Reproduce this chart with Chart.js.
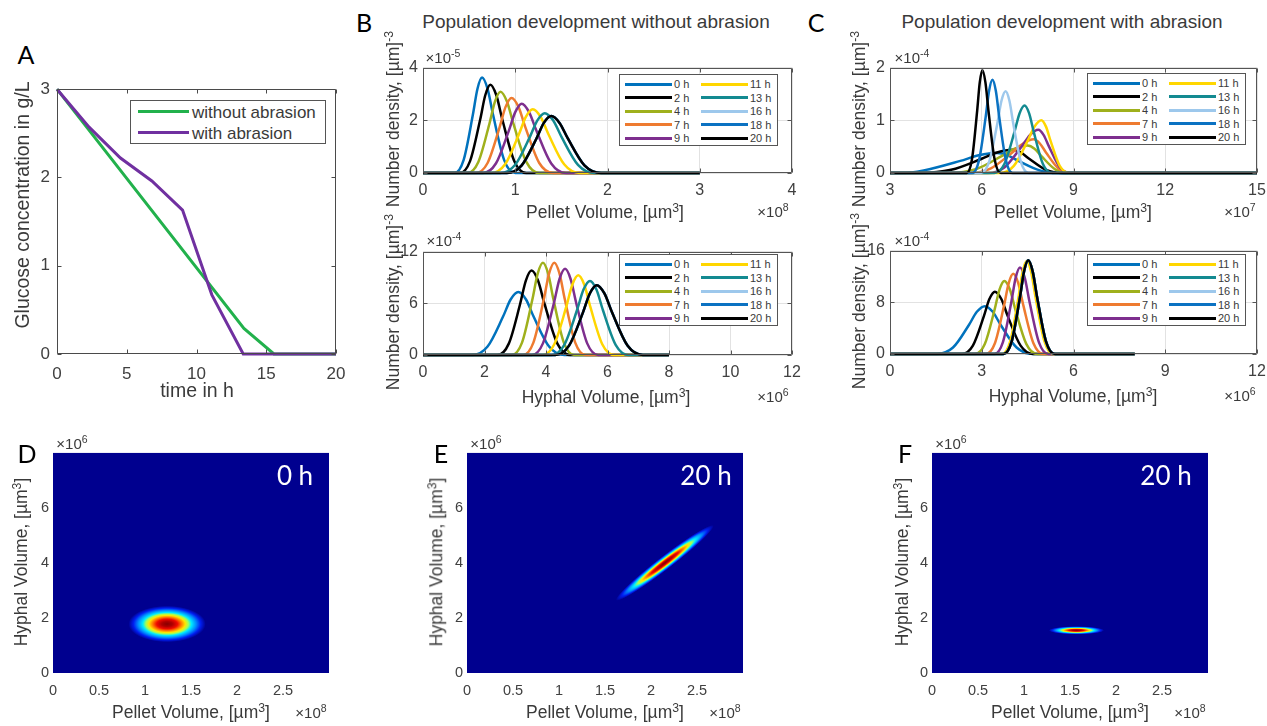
<!DOCTYPE html>
<html>
<head>
<meta charset="utf-8">
<script src="https://cdn.jsdelivr.net/npm/chart.js@4.4.1/dist/chart.umd.min.js"></script>
<style>
  body { margin: 0; background: #fff; }
  #fig { position: relative; width: 1267px; height: 726px; overflow: hidden; font-family: "Liberation Sans", Arial, sans-serif; }
  #fig canvas { position: absolute; }
  .t { position: absolute; white-space: nowrap; line-height: 1; transform: translate(-50%, -50%); color: #3a3a3a; }
  .t.rot { transform: translate(-50%, -50%) rotate(-90deg); }
  .t sup { font-size: 70%; line-height: 0; vertical-align: 0.5em; }
  .letter { font-family: Lato, "Open Sans", sans-serif; color: #000; }
  .lg { position: absolute; background: #fff; border: 1px solid #555; box-sizing: border-box; }
  .lg div { position: absolute; }
  .lg span { position: absolute; white-space: nowrap; line-height: 1; transform: translateY(-50%); color: #3a3a3a; }
</style>
</head>
<body>
<div id="fig"></div>
<script>
// ---- panel A : glucose ----
const timeNoAbr = [0, 13.4, 15.55, 20];
const glucoseNoAbr = [3, 0.29, 0, 0];
const timeAbr = [0, 2.3, 4.55, 6.8, 9.0, 11.1, 13.35, 20];
const glucoseAbr = [3, 2.57, 2.22, 1.96, 1.63, 0.67, 0, 0];
const timeTicks = [0, 5, 10, 15, 20];
const glucoseTicks = [0, 1, 2, 3];

// ---- panels B / C : number density curves ----
const sampleTimes = ['0 h', '2 h', '4 h', '7 h', '9 h', '11 h', '13 h', '16 h', '18 h', '20 h'];
const sampleColors = ['#0072BD', '#000000', '#9FB01C', '#EE7B30', '#7E2F8E', '#FFD600', '#138A91', '#9DC8EC', '#0B72C2', '#000000'];

// pellet volume (x 1e8 um3) / density (x 1e-5), without abrasion
const pelletNoAbr20 = [[0.91,0],[1.07,0.29],[1.23,1.31],[1.31,1.90],[1.39,2.16],[1.48,1.90],[1.57,1.31],[1.75,0.29],[1.93,0]];
const pelletNoAbr = [
  [[0.34,0],[0.44,0.49],[0.54,2.20],[0.59,3.19],[0.64,3.62],[0.70,3.19],[0.76,2.20],[0.88,0.49],[1.00,0]],
  [[0.40,0],[0.51,0.45],[0.62,2.03],[0.675,2.95],[0.73,3.35],[0.795,2.95],[0.86,2.03],[0.99,0.45],[1.12,0]],
  [[0.48,0],[0.60,0.42],[0.72,1.87],[0.78,2.71],[0.84,3.08],[0.91,2.71],[0.98,1.87],[1.12,0.42],[1.26,0]],
  [[0.57,0],[0.70,0.38],[0.83,1.73],[0.895,2.51],[0.96,2.85],[1.035,2.51],[1.11,1.73],[1.26,0.38],[1.41,0]],
  [[0.65,0],[0.79,0.36],[0.93,1.60],[1.00,2.31],[1.07,2.63],[1.15,2.31],[1.23,1.60],[1.39,0.36],[1.55,0]],
  [[0.74,0],[0.89,0.33],[1.04,1.47],[1.115,2.13],[1.19,2.42],[1.275,2.13],[1.36,1.47],[1.53,0.33],[1.70,0]],
  [[0.84,0],[1.00,0.31],[1.16,1.38],[1.24,2.00],[1.32,2.27],[1.41,2.00],[1.50,1.38],[1.68,0.31],[1.86,0]],
  pelletNoAbr20, pelletNoAbr20, pelletNoAbr20
];

// hyphal volume (x 1e6 um3) / density (x 1e-4), without abrasion
const hyphalNoAbr20 = [[4.30,0],[4.75,1.09],[5.20,4.92],[5.425,7.14],[5.65,8.1],[5.90,7.14],[6.15,4.92],[6.65,1.09],[7.15,0]];
const hyphalNoAbr = [
  [[1.6,0],[2.1,0.99],[2.6,4.43],[2.85,6.44],[3.1,7.3],[3.35,6.44],[3.6,4.43],[4.1,0.99],[4.6,0]],
  [[2.42,0],[2.79,1.32],[3.16,5.95],[3.345,8.64],[3.53,9.8],[3.74,8.64],[3.95,5.95],[4.37,1.32],[4.79,0]],
  [[2.88,0],[3.22,1.44],[3.56,6.49],[3.73,9.44],[3.9,10.7],[4.07,9.44],[4.24,6.49],[4.58,1.44],[4.92,0]],
  [[3.25,0],[3.59,1.44],[3.93,6.49],[4.10,9.44],[4.27,10.7],[4.44,9.44],[4.61,6.49],[4.95,1.44],[5.29,0]],
  [[3.54,0],[3.90,1.35],[4.26,6.07],[4.44,8.82],[4.62,10.0],[4.80,8.82],[4.98,6.07],[5.34,1.35],[5.70,0]],
  [[3.88,0],[4.27,1.25],[4.66,5.61],[4.855,8.16],[5.05,9.25],[5.245,8.16],[5.44,5.61],[5.83,1.25],[6.22,0]],
  [[4.17,0],[4.59,1.16],[5.01,5.22],[5.22,7.59],[5.43,8.6],[5.64,7.59],[5.85,5.22],[6.27,1.16],[6.69,0]],
  hyphalNoAbr20, hyphalNoAbr20, hyphalNoAbr20
];

// pellet volume (x 1e7 um3) / density (x 1e-4), with abrasion
const pelletAbr = [
  [[3.4,0],[4.1,0.05],[5.3,0.23],[5.9,0.335],[6.5,0.38],[6.85,0.335],[7.2,0.23],[7.9,0.05],[8.6,0]],
  [[4.0,0],[5.0,0.06],[6.0,0.27],[6.5,0.39],[7.0,0.44],[7.275,0.39],[7.55,0.27],[8.1,0.06],[8.65,0]],
  [[4.95,0],[5.8,0.07],[6.65,0.32],[7.075,0.46],[7.5,0.52],[7.725,0.46],[7.95,0.32],[8.4,0.07],[8.85,0]],
  [[5.6,0],[6.3,0.09],[7.0,0.39],[7.35,0.56],[7.7,0.64],[7.9,0.56],[8.1,0.39],[8.5,0.09],[8.9,0]],
  [[6.2,0],[6.75,0.11],[7.3,0.50],[7.575,0.72],[7.85,0.82],[8.025,0.72],[8.2,0.50],[8.55,0.11],[8.9,0]],
  [[6.6,0],[7.05,0.135],[7.5,0.61],[7.725,0.88],[7.95,1.0],[8.1,0.88],[8.25,0.61],[8.55,0.135],[8.85,0]],
  [[6.41,0],[6.74,0.17],[7.07,0.78],[7.235,1.13],[7.4,1.28],[7.55,1.13],[7.7,0.78],[8.0,0.17],[8.3,0]],
  [[5.97,0],[6.24,0.21],[6.51,0.94],[6.645,1.37],[6.78,1.55],[6.905,1.37],[7.03,0.94],[7.28,0.21],[7.53,0]],
  [[5.69,0],[5.91,0.24],[6.13,1.07],[6.24,1.56],[6.35,1.77],[6.46,1.56],[6.57,1.07],[6.79,0.24],[7.01,0]],
  [[5.51,0],[5.68,0.26],[5.85,1.18],[5.935,1.72],[6.02,1.95],[6.12,1.72],[6.22,1.18],[6.42,0.26],[6.62,0]]
];

// hyphal volume (x 1e6 um3) / density (x 1e-4), with abrasion
const hyphalAbr20 = [[3.71,0],[3.98,1.96],[4.25,8.80],[4.385,12.79],[4.52,14.5],[4.665,12.79],[4.81,8.80],[5.10,1.96],[5.39,0]];
const hyphalAbr = [
  [[1.54,0],[2.06,1.0],[2.58,4.49],[2.84,6.53],[3.1,7.4],[3.36,6.53],[3.62,4.49],[4.14,1.0],[4.66,0]],
  [[2.35,0],[2.71,1.30],[3.07,5.86],[3.25,8.51],[3.43,9.65],[3.64,8.51],[3.85,5.86],[4.27,1.30],[4.69,0]],
  [[2.78,0],[3.10,1.53],[3.42,6.86],[3.58,9.97],[3.74,11.3],[3.92,9.97],[4.10,6.86],[4.46,1.53],[4.82,0]],
  [[3.13,0],[3.43,1.67],[3.73,7.53],[3.88,10.94],[4.03,12.4],[4.195,10.94],[4.36,7.53],[4.69,1.67],[5.02,0]],
  [[3.41,0],[3.69,1.81],[3.97,8.13],[4.11,11.82],[4.25,13.4],[4.405,11.82],[4.56,8.13],[4.87,1.81],[5.18,0]],
  [[3.66,0],[3.93,1.94],[4.20,8.74],[4.335,12.7],[4.47,14.4],[4.615,12.7],[4.76,8.74],[5.05,1.94],[5.34,0]],
  hyphalAbr20, hyphalAbr20, hyphalAbr20, hyphalAbr20
];

// ---- panels D / E / F : joint distributions (x 1e8 pellet, y 1e6 hyphal) ----
const heatCenterD = [1.24, 1.78];
const heatSpreadD = [[0.42, 0], [0, 0.66]];
const heatCenterE = [2.15, 4.0];
const heatSpreadE = [[0.53, 1.36], [0.045, -0.195]];
const heatCenterF = [1.57, 1.55];
const heatSpreadF = [[0.3, 0], [0, 0.15]];
const heatTimes = ['0 h', '20 h', '20 h'];
const pelletTicks = [0, 0.5, 1, 1.5, 2, 2.5];
const hyphalTicks = [0, 2, 4, 6];

const FONT = '"Liberation Sans", Arial, sans-serif';
const jetStops = [[0, 'rgb(135,0,0)'], [0.14, 'rgb(175,0,0)'], [0.27, 'rgb(240,10,0)'], [0.37, 'rgb(255,120,0)'],
  [0.47, 'rgb(255,230,0)'], [0.55, 'rgb(160,255,90)'], [0.63, 'rgb(0,235,255)'], [0.75, 'rgb(0,140,255)'],
  [0.87, 'rgb(0,30,240)'], [1, 'rgb(0,0,143)']];

const fig = document.getElementById('fig');

// box around the axes with inward ticks (matlab look)
const framePlugin = {
  id: 'frame',
  afterDatasetsDraw(chart, args, opts) {
    if (!opts.color) return;
    const { ctx, chartArea: a, scales } = chart;
    const L = Math.round(a.left) + 0.5, R = Math.round(a.right) - 0.5;
    const T = Math.round(a.top) + 0.5, B = Math.round(a.bottom) - 0.5;
    ctx.save();
    ctx.strokeStyle = opts.color;
    ctx.lineWidth = 1;
    ctx.beginPath();
    scales.x.ticks.forEach(t => {
      const p = Math.round(scales.x.getPixelForValue(t.value)) + 0.5;
      ctx.moveTo(p, B); ctx.lineTo(p, B - opts.tick);
      ctx.moveTo(p, T); ctx.lineTo(p, T + opts.tick);
    });
    scales.y.ticks.forEach(t => {
      const p = Math.round(scales.y.getPixelForValue(t.value)) + 0.5;
      ctx.moveTo(L, p); ctx.lineTo(L + opts.tick, p);
      ctx.moveTo(R, p); ctx.lineTo(R - opts.tick, p);
    });
    ctx.rect(L, T, R - L, B - T);
    ctx.stroke();
    ctx.restore();
  }
};

// density map: blob from dataset centre + spread vectors, painted through the scales
const heatPlugin = {
  id: 'heat',
  beforeDatasetsDraw(chart) {
    const ds = chart.data.datasets[0];
    if (!ds || !ds.spread) return;
    const { ctx, chartArea: a, scales: { x, y } } = chart;
    const c = ds.data[0], u = ds.spread[0], v = ds.spread[1];
    ctx.save();
    ctx.beginPath();
    ctx.rect(a.left, a.top, a.width, a.height);
    ctx.clip();
    ctx.fillStyle = jetStops[jetStops.length - 1][1];
    ctx.fillRect(a.left, a.top, a.width, a.height);
    const px = x.getPixelForValue(c.x), py = y.getPixelForValue(c.y);
    ctx.translate(px, py);
    ctx.transform(x.getPixelForValue(c.x + u[0]) - px, y.getPixelForValue(c.y + u[1]) - py,
                  x.getPixelForValue(c.x + v[0]) - px, y.getPixelForValue(c.y + v[1]) - py, 0, 0);
    const g = ctx.createRadialGradient(0, 0, 0, 0, 0, 1);
    jetStops.forEach(s => g.addColorStop(s[0], s[1]));
    ctx.fillStyle = g;
    ctx.beginPath();
    ctx.arc(0, 0, 1, 0, Math.PI * 2);
    ctx.fill();
    ctx.restore();
  }
};
Chart.register(framePlugin, heatPlugin);

function scaleOpts(min, max, tickVals, size, pad, grid) {
  return {
    type: 'linear', min: min, max: max,
    afterBuildTicks: s => { s.ticks = tickVals.map(v => ({ value: v })); },
    ticks: { font: { family: FONT, size: size }, color: '#404040', padding: pad, maxRotation: 0, autoSkip: false, callback: v => String(v) },
    grid: grid ? { color: '#e2e2e2', drawTicks: false } : { display: false, drawTicks: false },
    border: { display: false }
  };
}

// box = plot area [left, top, right, bottom] on the page, m = room for ticks [l, t, r, b]
function makeChart(box, m, config) {
  const cv = document.createElement('canvas');
  const w = box[2] - box[0] + m[0] + m[2], h = box[3] - box[1] + m[1] + m[3];
  cv.width = w; cv.height = h;
  cv.style.left = (box[0] - m[0]) + 'px';
  cv.style.top = (box[1] - m[1]) + 'px';
  cv.style.width = w + 'px';
  cv.style.height = h + 'px';
  fig.appendChild(cv);
  const o = config.options;
  o.responsive = false;
  o.animation = false;
  o.devicePixelRatio = 1;
  o.layout = { padding: { left: 0, top: m[1], right: m[2], bottom: 0 } };
  o.scales.x.afterFit = s => { s.height = m[3]; };
  o.scales.y.afterFit = s => { s.width = m[0]; };
  o.plugins = Object.assign({ legend: { display: false }, tooltip: { enabled: false } }, o.plugins || {});
  return new Chart(cv, config);
}

function toXY(xs, ys) { return xs.map((v, i) => ({ x: v, y: ys[i] })); }

// panel A
makeChart([57, 84, 336, 354], [50, 12, 20, 40], {
  type: 'line',
  data: {
    datasets: [
      { label: 'without abrasion', data: toXY(timeNoAbr, glucoseNoAbr), borderColor: '#22B14C', borderWidth: 3, pointRadius: 0, clip: false, order: 2 },
      { label: 'with abrasion', data: toXY(timeAbr, glucoseAbr), borderColor: '#7030A0', borderWidth: 3, pointRadius: 0, clip: false, order: 1 }
    ]
  },
  options: {
    scales: { x: scaleOpts(0, 20, timeTicks, 17, 10, false), y: scaleOpts(0, 3, glucoseTicks, 17, 7, false) },
    plugins: { frame: { color: '#4a4a4a', tick: 4 } }
  }
});

function curveChart(box, curves, xr, xTicks, yTicks) {
  const datasets = curves.map((pts, i) => ({
    label: sampleTimes[i],
    data: [{ x: xr[0], y: 0 }].concat(pts.map(p => ({ x: p[0], y: p[1] })), [{ x: xr[1], y: 0 }]),
    borderColor: sampleColors[i],
    borderWidth: 2.5,
    pointRadius: 0,
    cubicInterpolationMode: 'monotone',
    clip: false,
    order: curves.length - i
  }));
  makeChart(box, [40, 12, 20, 30], {
    type: 'line',
    data: { datasets: datasets },
    options: {
      scales: { x: scaleOpts(xTicks[0], xTicks[xTicks.length - 1], xTicks, 16, 8, true),
                y: scaleOpts(yTicks[0], yTicks[yTicks.length - 1], yTicks, 16, 5, true) },
      plugins: { frame: { color: '#555', tick: 4 } }
    }
  });
}

curveChart([423, 65, 792, 173], pelletNoAbr, [0, 3], [0, 1, 2, 3, 4], [0, 2, 4]);
curveChart([423, 249, 792, 355], hyphalNoAbr, [0, 8], [0, 2, 4, 6, 8, 10, 12], [0, 6, 12]);
curveChart([890, 65, 1257, 173], pelletAbr, [3, 15], [3, 6, 9, 12, 15], [0, 1, 2]);
curveChart([890, 248, 1257, 354], hyphalAbr, [0, 8], [0, 3, 6, 9, 12], [0, 8, 16]);

function heatChart(box, center, spread) {
  makeChart(box, [40, 12, 20, 40], {
    type: 'scatter',
    data: { datasets: [{ data: [{ x: center[0], y: center[1] }], spread: spread, pointRadius: 0 }] },
    options: {
      scales: { x: scaleOpts(0, 3, pelletTicks, 14.5, 9, false), y: scaleOpts(0, 8, hyphalTicks, 14.5, 4, false) }
    }
  });
}
heatChart([53, 452, 329, 673], heatCenterD, heatSpreadD);
heatChart([467, 452, 743, 673], heatCenterE, heatSpreadE);
heatChart([932, 452, 1208, 673], heatCenterF, heatSpreadF);

// ---- text ----
function txt(html, x, y, size, cls, color) {
  const d = document.createElement('div');
  d.className = 't' + (cls ? ' ' + cls : '');
  d.innerHTML = html;
  d.style.left = x + 'px';
  d.style.top = y + 'px';
  d.style.fontSize = size + 'px';
  if (color) d.style.color = color;
  fig.appendChild(d);
}

function legend(left, top, labels, colors) {
  const box = document.createElement('div');
  box.className = 'lg';
  box.style.left = left + 'px'; box.style.top = top + 'px';
  box.style.width = '159px'; box.style.height = '72px';
  labels.forEach((lab, i) => {
    const col = Math.floor(i / 5), row = i % 5;
    const yc = 9 + row * 13.5;
    const ln = document.createElement('div');
    ln.style.left = (5 + col * 76) + 'px'; ln.style.top = (yc - 1.5) + 'px';
    ln.style.width = '47px'; ln.style.height = '3px'; ln.style.background = colors[i];
    box.appendChild(ln);
    const s = document.createElement('span');
    s.textContent = lab;
    s.style.left = (54 + col * 76) + 'px'; s.style.top = yc + 'px'; s.style.fontSize = '11px';
    box.appendChild(s);
  });
  fig.appendChild(box);
}

// legend A
(function () {
  const box = document.createElement('div');
  box.className = 'lg';
  box.style.left = '130px'; box.style.top = '100px'; box.style.width = '196px'; box.style.height = '44px';
  [['without abrasion', '#22B14C'], ['with abrasion', '#7030A0']].forEach((e, i) => {
    const yc = 10.5 + i * 21;
    const ln = document.createElement('div');
    ln.style.left = '7px'; ln.style.top = (yc - 1.5) + 'px'; ln.style.width = '51px'; ln.style.height = '3px'; ln.style.background = e[1];
    box.appendChild(ln);
    const s = document.createElement('span');
    s.textContent = e[0]; s.style.left = '61px'; s.style.top = yc + 'px'; s.style.fontSize = '17px';
    box.appendChild(s);
  });
  fig.appendChild(box);
})();

legend(619, 74, sampleTimes, sampleColors);
legend(619, 254, sampleTimes, sampleColors);
legend(1087, 73, sampleTimes, sampleColors);
legend(1087, 254, sampleTimes, sampleColors);

// panel letters
txt('A', 26, 54, 25, 'letter');
txt('B', 364, 22, 25, 'letter');
txt('C', 816, 22, 25, 'letter');
txt('D', 27, 453, 25, 'letter');
txt('E', 441, 453, 25, 'letter');
txt('F', 905, 453, 25, 'letter');

// titles
txt('Population development without abrasion', 596, 21, 19);
txt('Population development with abrasion', 1062, 21, 19);

// panel A axis titles
txt('time in h', 197, 391, 19.5);
txt('Glucose concentration in g/L', 23, 205, 19.5, 'rot');

// B / C axis titles and exponents
const volUnit = ', [µm<sup>3</sup>]';
txt('Pellet Volume' + volUnit, 605, 213, 17.5);
txt('Hyphal Volume' + volUnit, 606, 398, 17.5);
txt('Pellet Volume' + volUnit, 1073, 213, 17.5);
txt('Hyphal Volume' + volUnit, 1073, 397, 17.5);
txt('Number density, [µm]<sup>-3</sup>', 394, 119, 17.5, 'rot');
txt('Number density, [µm]<sup>-3</sup>', 394, 302, 17.5, 'rot');
txt('Number density, [µm]<sup>-3</sup>', 860, 119, 17.5, 'rot');
txt('Number density, [µm]<sup>-3</sup>', 860, 301, 17.5, 'rot');
txt('×10<sup>-5</sup>', 443, 57, 15);
txt('×10<sup>-4</sup>', 444, 240, 15);
txt('×10<sup>-4</sup>', 912, 57, 15);
txt('×10<sup>-4</sup>', 912, 240, 15);
txt('×10<sup>8</sup>', 773, 211, 15);
txt('×10<sup>6</sup>', 773, 396, 15);
txt('×10<sup>7</sup>', 1240, 211, 15);
txt('×10<sup>6</sup>', 1240, 395, 15);

// D / E / F
[[191, 22, 72, 311, 295], [605, 437, 486, 725, 706], [1070, 903, 951, 1190, 1166]].forEach((p, i) => {
  txt('Pellet Volume' + volUnit, p[0], 713, 17.5);
  txt('Hyphal Volume' + volUnit, p[1], 562, 17.5, 'rot');
  txt('×10<sup>6</sup>', p[2], 443, 15);
  txt('×10<sup>8</sup>', p[3], 712, 15);
  txt(heatTimes[i], p[4], 475, 26, 'letter', '#fff');
});
</script>
</body>
</html>
